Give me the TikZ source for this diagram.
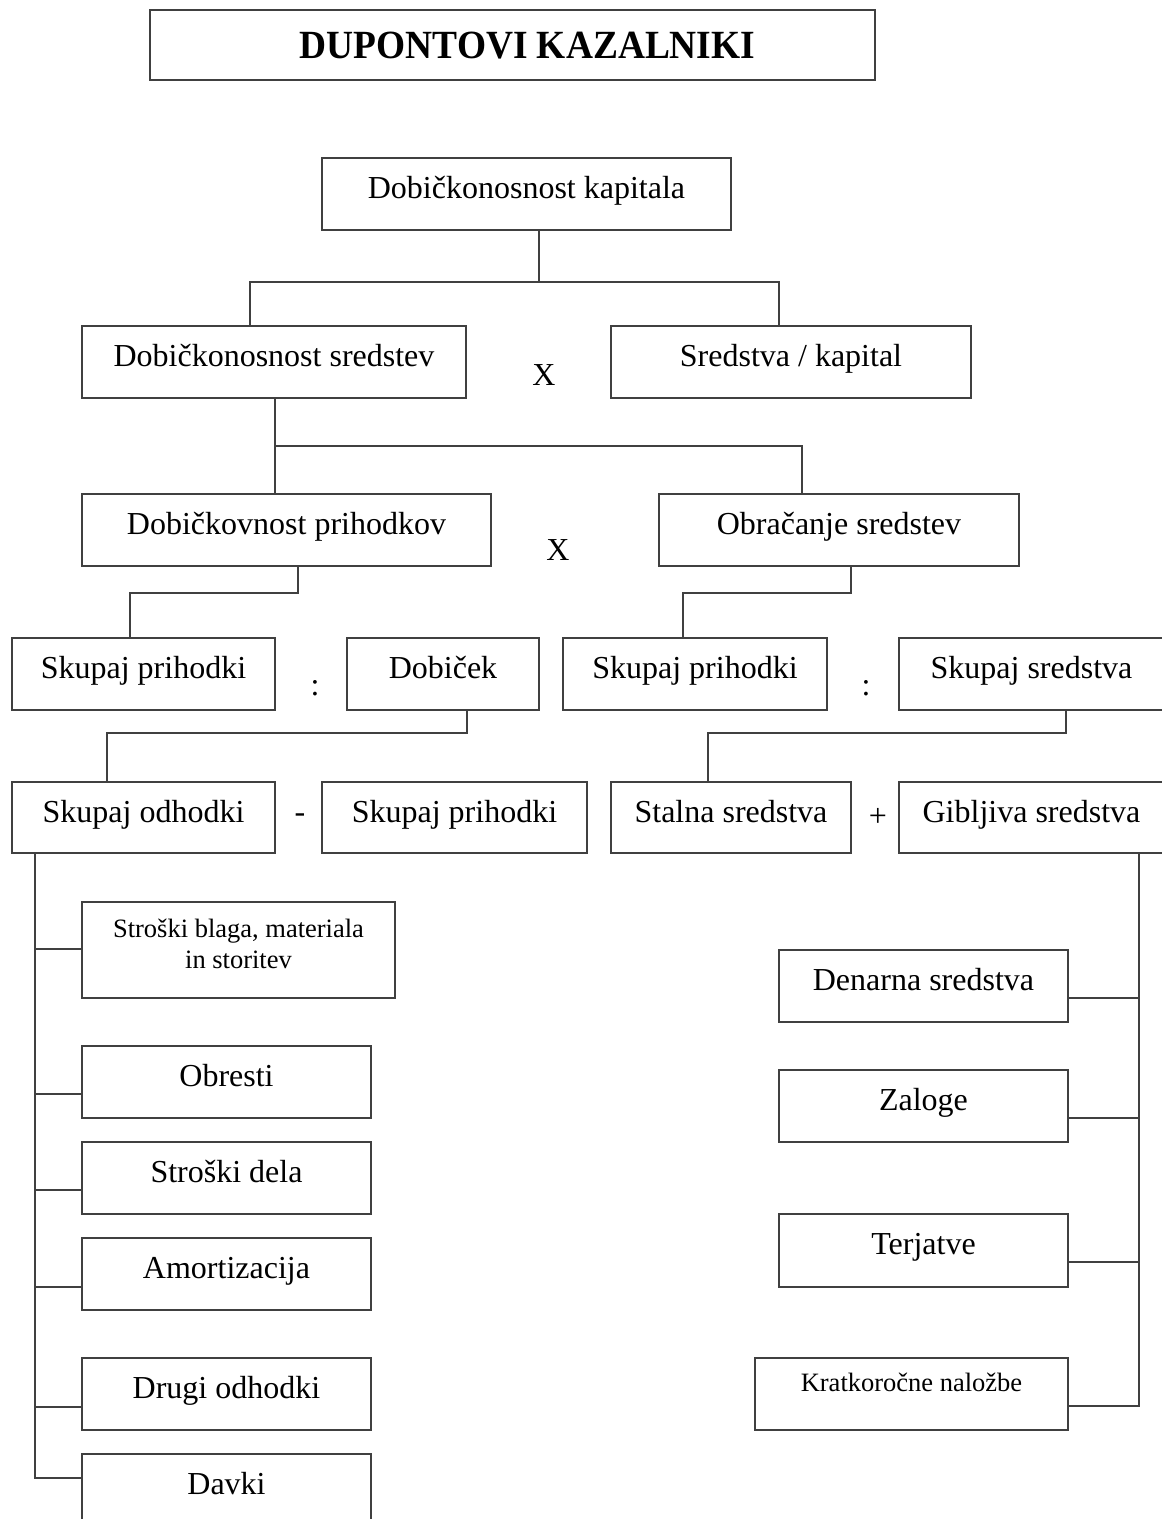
\documentclass[tikz,border=0pt]{standalone}
\usepackage{fontspec}
\setmainfont{Liberation Serif}
\usetikzlibrary{calc}
\tikzset{
  box/.style={draw=black!75, line width=1.3pt, inner sep=0pt, outer sep=0pt, anchor=north west},
  lbl/.style={font=\fontsize{32}{38}\selectfont, inner sep=0pt, anchor=base},
  ttl/.style={font=\fontsize{40}{46}\selectfont\bfseries, inner sep=0pt, anchor=base},
  sml/.style={font=\fontsize{26.5}{31}\selectfont, inner sep=0pt},
  op/.style={font=\fontsize{32}{38}\selectfont, inner sep=0pt},
  conn/.style={draw=black!75, line width=1.3pt},
}
\newcommand\bx[8][lbl]{%
  \node[box, minimum width={(#5-#3)*1pt}, minimum height={(#6-#4)*1pt}] (#2) at (#3,#4) {};
  \node[#1, anchor=base] (#2-t) at ($(#2.north)+(0,#7)$) {#8};}
\begin{document}
\begin{tikzpicture}[x=1pt,y=-1pt]
\useasboundingbox (0,0) rectangle (1162,1519);
\clip (0,0) rectangle (1162,1519);
\node[box, minimum width=725pt, minimum height=70pt] (tt) at (150,10) {};
\node[ttl] (tt-t) at ($(tt.north)+(15,48)$) {\scalebox{0.935}[1]{DUPONTOVI KAZALNIKI}};
\bx{kap}{322}{158}{731}{230}{40}{Dobičkonosnost kapitala}
\bx{ds}{82}{326}{466}{398}{40}{Dobičkonosnost sredstev}
\bx{sk}{611}{326}{971}{398}{40}{Sredstva / kapital}
\node[op] (x1) at (544,375) {X};
\bx{dp}{82}{494}{491}{566}{40}{Dobičkovnost prihodkov}
\bx{ob}{659}{494}{1019}{566}{40}{Obračanje sredstev}
\node[op] (x2) at (558,550) {X};
\bx{spa}{12}{638}{275}{710}{40}{Skupaj prihodki}
\node[op] (ca) at (315,688) {:};
\bx{dob}{347}{638}{539}{710}{40}{Dobiček}
\bx{spb}{563}{638}{827}{710}{40}{Skupaj prihodki}
\node[op] (cb) at (866,688) {:};
\bx{ss}{899}{638}{1164}{710}{40}{Skupaj sredstva}
\bx{so}{12}{782}{275}{853}{40}{Skupaj odhodki}
\node[op] (mi) at (300,818) {-};
\bx{spc}{322}{782}{587}{853}{40}{Skupaj prihodki}
\bx{st}{611}{782}{851}{853}{40}{Stalna sredstva}
\node[op] (pl) at (878,817) {+};
\bx{gs}{899}{782}{1164}{853}{40}{Gibljiva sredstva}
% left column
\node[box, minimum width=313pt, minimum height=96pt] (sb) at (82,902) {};
\node[sml, align=center] (sb-t) at ($(sb.north)+(0,42)$) {Stroški blaga, materiala\\in storitev};
\bx{obr}{82}{1046}{371}{1118}{40}{Obresti}
\bx{sd}{82}{1142}{371}{1214}{40}{Stroški dela}
\bx{am}{82}{1238}{371}{1310}{40}{Amortizacija}
\bx{dr}{82}{1358}{371}{1430}{40}{Drugi odhodki}
\bx{dv}{82}{1454}{371}{1540}{40}{Davki}
% right column
\bx{dn}{779}{950}{1068}{1022}{40}{Denarna sredstva}
\bx{za}{779}{1070}{1068}{1142}{40}{Zaloge}
\bx{te}{779}{1214}{1068}{1287}{40}{Terjatve}
\bx[sml]{kn}{755}{1358}{1068}{1430}{33}{Kratkoročne naložbe}
% connectors
\draw[conn] ($(kap.south west)+(217,0)$) -- ++(0,52) coordinate (j1);
\draw[conn] ($(ds.north west)+(168,0)$) |- (j1) -| ($(sk.north west)+(168,0)$);
\draw[conn] ($(ds.south west)+(193,0)$) -- ($(dp.north west)+(193,0)$);
\coordinate (j2) at ($(ds.south west)+(193,48)$);
\draw[conn] (j2) -| ($(ob.north west)+(143,0)$);
\draw[conn] ($(dp.south west)+(216,0)$) -- ++(0,27) -| ($(spa.north west)+(118,0)$);
\draw[conn] ($(ob.south west)+(192,0)$) -- ++(0,27) -| ($(spb.north west)+(120,0)$);
\draw[conn] ($(dob.south west)+(120,0)$) -- ++(0,23) -| ($(so.north west)+(95,0)$);
\draw[conn] ($(ss.south west)+(167,0)$) -- ++(0,23) -| ($(st.north west)+(97,0)$);
\draw[conn] ($(so.south west)+(23,0)$) |- ($(dv.north west)+(0,24)$);
\foreach \nm/\off in {sb/47, obr/48, sd/48, am/49, dr/49}
  \draw[conn] ($(\nm.north west)+(-47,\off)$) -- ($(\nm.north west)+(0,\off)$);
\draw[conn] ($(gs.south west)+(240,0)$) |- ($(kn.north east)+(0,48)$);
\foreach \nm in {dn,za,te}
  \draw[conn] ($(\nm.north east)+(0,48)$) -- ++(71,0);
\end{tikzpicture}
\end{document}
